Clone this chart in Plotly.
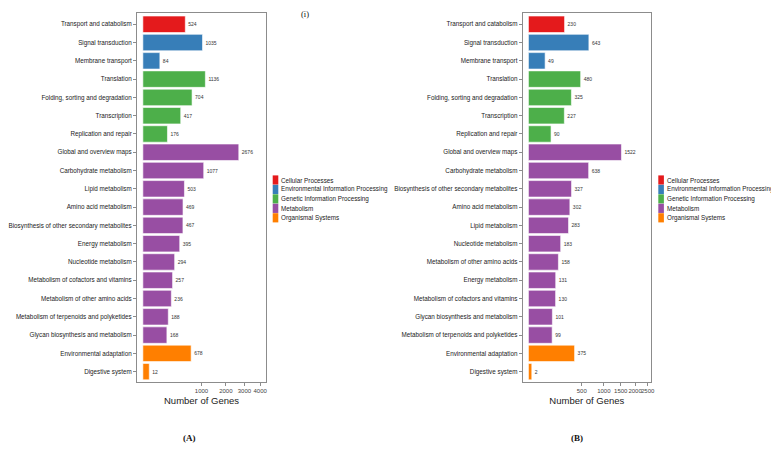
import numpy as np
import plotly.graph_objects as go

groups = ["Cellular Processes", "Environmental Information Processing",
          "Genetic Information Processing", "Metabolism", "Organismal Systems"]
group_colors = ["#E41A1C", "#377EB8", "#4DAF4A", "#984EA3", "#FF7F00"]

cats_a = ["Transport and catabolism", "Signal transduction", "Membrane transport",
          "Translation", "Folding, sorting and degradation", "Transcription",
          "Replication and repair", "Global and overview maps", "Carbohydrate metabolism",
          "Lipid metabolism", "Amino acid metabolism",
          "Biosynthesis of other secondary metabolites", "Energy metabolism",
          "Nucleotide metabolism", "Metabolism of cofactors and vitamins",
          "Metabolism of other amino acids", "Metabolism of terpenoids and polyketides",
          "Glycan biosynthesis and metabolism", "Environmental adaptation", "Digestive system"]
vals_a = [524, 1035, 84, 1136, 704, 417, 176, 2676, 1077, 503, 469, 467, 395, 294,
          257, 236, 188, 168, 678, 12]
grp_a = [0, 1, 1, 2, 2, 2, 2, 3, 3, 3, 3, 3, 3, 3, 3, 3, 3, 3, 4, 4]

cats_b = ["Transport and catabolism", "Signal transduction", "Membrane transport",
          "Translation", "Folding, sorting and degradation", "Transcription",
          "Replication and repair", "Global and overview maps", "Carbohydrate metabolism",
          "Biosynthesis of other secondary metabolites", "Amino acid metabolism",
          "Lipid metabolism", "Nucleotide metabolism", "Metabolism of other amino acids",
          "Energy metabolism", "Metabolism of cofactors and vitamins",
          "Glycan biosynthesis and metabolism", "Metabolism of terpenoids and polyketides",
          "Environmental adaptation", "Digestive system"]
vals_b = [230, 643, 49, 480, 325, 227, 90, 1522, 638, 327, 302, 283, 183, 158,
          131, 130, 101, 99, 375, 2]
grp_b = [0, 1, 1, 2, 2, 2, 2, 3, 3, 3, 3, 3, 3, 3, 3, 3, 3, 3, 4, 4]

ticks_a = [1000, 2000, 3000, 4000]
ticks_b = [500, 1000, 1500, 2000, 2500]

FONT = "Liberation Sans, Arial, sans-serif"

# page body has an 8px margin, so size the figure to the visible area
W, H, OFF = 771, 445, 8


def px(x):
    return (x - OFF) / W


def py(y):
    return 1 - (y - OFF) / H


fig = go.Figure()


# square-root x scale: plot sqrt(count), label ticks with raw counts
def add_panel(cats, vals, grps, xa, ya):
    for g, name in enumerate(groups):
        idx = [i for i in range(len(cats)) if grps[i] == g]
        fig.add_trace(go.Bar(
            y=[cats[i] for i in idx],
            x=[np.sqrt(vals[i]) for i in idx],
            text=[str(vals[i]) for i in idx],
            textposition="outside",
            textfont=dict(size=5, color="#333333", family=FONT),
            cliponaxis=False,
            orientation="h", width=0.9,
            marker=dict(color=group_colors[g], line=dict(color="rgba(255,255,255,0.6)", width=1)),
            xaxis=xa, yaxis=ya, showlegend=False, name=name,
        ))


add_panel(cats_a, vals_a, grp_a, "x", "y")
add_panel(cats_b, vals_b, grp_b, "x2", "y2")

axis_common = dict(showline=True, mirror=True, linecolor="#8c8c8c", linewidth=1,
                   showgrid=False, zeroline=False, ticks="outside", ticklen=3,
                   tickcolor="#8c8c8c", automargin=False, tickangle=0)

fig.update_layout(
    width=W, height=H, margin=dict(l=0, r=0, t=0, b=0),
    plot_bgcolor="white", paper_bgcolor="white", bargap=0.1,
    font=dict(family=FONT, color="#333333"),
    xaxis=dict(domain=[px(137), px(266)], range=[-3.16, 66.4],
               tickvals=[np.sqrt(t) for t in ticks_a], ticktext=[str(t) for t in ticks_a],
               tickfont=dict(size=6, color="#444444"),
               title=dict(text="Number of Genes", font=dict(size=9.5, color="#222222"), standoff=4),
               anchor="y", **axis_common),
    yaxis=dict(domain=[py(381.7), py(13.3)], type="category", categoryorder="array",
               categoryarray=cats_a, range=[19.55, -0.6],
               tickfont=dict(size=6.3, color="#222222"), anchor="x", **axis_common),
    xaxis2=dict(domain=[px(522.7), px(651)], range=[-2.4, 51.4],
                tickvals=[np.sqrt(t) for t in ticks_b], ticktext=[str(t) for t in ticks_b],
                tickfont=dict(size=6, color="#444444"),
                title=dict(text="Number of Genes", font=dict(size=9.5, color="#222222"), standoff=4),
                anchor="y2", **axis_common),
    yaxis2=dict(domain=[py(381.7), py(13.3)], type="category", categoryorder="array",
                categoryarray=cats_b, range=[19.55, -0.6],
                tickfont=dict(size=6.3, color="#222222"), anchor="x2", **axis_common),
)

# hand-drawn compact legends next to each panel
for x0 in [272.7, 658.3]:
    for g, name in enumerate(groups):
        yc = 180 + g * 9.45
        fig.add_shape(type="rect", xref="paper", yref="paper",
                      x0=px(x0), x1=px(x0 + 5.6),
                      y0=py(yc + 4.6), y1=py(yc - 4.6),
                      fillcolor=group_colors[g], line=dict(width=0))
        fig.add_annotation(text=name, xref="paper", yref="paper",
                           x=px(x0 + 6.5), y=py(yc), xanchor="left", yanchor="middle",
                           showarrow=False, font=dict(size=6.3, color="#222222", family=FONT))

serif = "Liberation Serif, serif"
for txt, x, y, size in [("(i)", 305, 14, 8.5), ("<b>(A)</b>", 189, 438, 9),
                        ("<b>(B)</b>", 577, 438, 9)]:
    fig.add_annotation(text=txt, xref="paper", yref="paper", x=px(x), y=py(y),
                       xanchor="center", yanchor="middle", showarrow=False,
                       font=dict(size=size, family=serif, color="#111111"))

fig.write_html("out.html")
